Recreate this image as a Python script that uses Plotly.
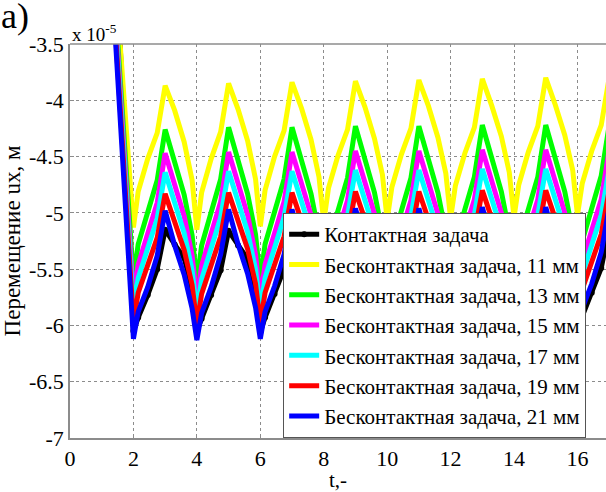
import plotly.graph_objects as go

# time axis (shared by all series)
t = [1.3,
     2.0, 2.15, 2.45, 2.75, 3.0, 3.3, 3.6, 3.85,
     4.0, 4.15, 4.45, 4.75, 5.0, 5.3, 5.6, 5.85,
     6.0, 6.15, 6.45, 6.75, 7.0, 7.3, 7.6, 7.85,
     8.0, 8.15, 8.45, 8.75, 9.0, 9.3, 9.6, 9.85,
     10.0, 10.15, 10.45, 10.75, 11.0, 11.3, 11.6, 11.85,
     12.0, 12.15, 12.45, 12.75, 13.0, 13.3, 13.6, 13.85,
     14.0, 14.15, 14.45, 14.75, 15.0, 15.3, 15.6, 15.85,
     16.0, 16.15, 16.45, 16.75, 17.0]

# displacement ux, x 10^-5 m
contact = [-1.8,
           -6.05, -5.93, -5.73, -5.50, -5.15, -5.28, -5.40, -5.68,
           -6.05, -5.94, -5.73, -5.51, -5.16, -5.29, -5.41, -5.69,
           -6.06, -5.93, -5.72, -5.50, -5.15, -5.28, -5.40, -5.68,
           -6.05, -5.93, -5.73, -5.50, -5.14, -5.28, -5.40, -5.68,
           -6.05, -5.93, -5.72, -5.49, -5.14, -5.27, -5.40, -5.68,
           -6.04, -5.92, -5.72, -5.49, -5.14, -5.27, -5.39, -5.67,
           -6.04, -5.92, -5.72, -5.49, -5.14, -5.27, -5.39, -5.67,
           -6.04, -5.92, -5.71, -5.49, -5.14]

gap11 = [-2.41,
         -5.13, -4.81, -4.52, -4.29, -3.87, -4.09, -4.37, -4.71,
         -5.15, -4.82, -4.52, -4.28, -3.85, -4.08, -4.36, -4.70,
         -5.12, -4.80, -4.50, -4.27, -3.84, -4.07, -4.35, -4.68,
         -5.08, -4.78, -4.49, -4.26, -3.83, -4.06, -4.34, -4.66,
         -5.06, -4.77, -4.48, -4.25, -3.82, -4.05, -4.33, -4.65,
         -5.05, -4.76, -4.47, -4.24, -3.81, -4.05, -4.32, -4.64,
         -5.04, -4.75, -4.46, -4.23, -3.80, -4.04, -4.31, -4.62,
         -5.02, -4.74, -4.45, -4.22, -3.80]

gap13 = [-2.60,
         -5.59, -5.28, -4.99, -4.71, -4.26, -4.55, -4.84, -5.20,
         -5.61, -5.29, -4.99, -4.70, -4.24, -4.54, -4.83, -5.19,
         -5.60, -5.28, -4.98, -4.70, -4.24, -4.54, -4.83, -5.19,
         -5.58, -5.27, -4.98, -4.69, -4.23, -4.53, -4.82, -5.18,
         -5.58, -5.27, -4.97, -4.69, -4.23, -4.53, -4.82, -5.18,
         -5.57, -5.26, -4.97, -4.68, -4.22, -4.52, -4.81, -5.17,
         -5.57, -5.26, -4.96, -4.68, -4.22, -4.52, -4.81, -5.17,
         -5.56, -5.25, -4.96, -4.67, -4.22]

gap15 = [-2.65,
         -5.75, -5.46, -5.17, -4.91, -4.47, -4.75, -5.03, -5.38,
         -5.77, -5.47, -5.17, -4.90, -4.46, -4.74, -5.02, -5.37,
         -5.76, -5.46, -5.16, -4.90, -4.46, -4.74, -5.02, -5.37,
         -5.75, -5.45, -5.16, -4.89, -4.45, -4.73, -5.01, -5.36,
         -5.75, -5.45, -5.16, -4.89, -4.45, -4.73, -5.01, -5.36,
         -5.74, -5.44, -5.15, -4.88, -4.44, -4.72, -5.00, -5.35,
         -5.74, -5.44, -5.15, -4.88, -4.44, -4.72, -5.00, -5.35,
         -5.73, -5.43, -5.14, -4.88, -4.44]

gap17 = [-2.70,
         -5.86, -5.58, -5.31, -5.05, -4.64, -4.91, -5.18, -5.51,
         -5.88, -5.59, -5.31, -5.04, -4.63, -4.90, -5.17, -5.50,
         -5.87, -5.58, -5.30, -5.04, -4.63, -4.90, -5.17, -5.50,
         -5.86, -5.57, -5.30, -5.03, -4.62, -4.89, -5.16, -5.49,
         -5.86, -5.57, -5.30, -5.03, -4.62, -4.89, -5.16, -5.49,
         -5.85, -5.56, -5.29, -5.02, -4.61, -4.88, -5.15, -5.48,
         -5.85, -5.56, -5.29, -5.02, -4.61, -4.88, -5.15, -5.48,
         -5.84, -5.55, -5.28, -5.02, -4.61]

gap19 = [-2.78,
         -5.97, -5.71, -5.46, -5.22, -4.83, -5.08, -5.33, -5.64,
         -5.99, -5.72, -5.46, -5.21, -4.82, -5.07, -5.32, -5.63,
         -5.98, -5.71, -5.45, -5.21, -4.82, -5.07, -5.32, -5.63,
         -5.97, -5.70, -5.45, -5.20, -4.81, -5.06, -5.31, -5.62,
         -5.97, -5.70, -5.45, -5.20, -4.81, -5.06, -5.31, -5.62,
         -5.96, -5.69, -5.44, -5.19, -4.80, -5.05, -5.30, -5.61,
         -5.96, -5.69, -5.44, -5.19, -4.80, -5.05, -5.30, -5.61,
         -5.95, -5.68, -5.43, -5.19, -4.80]

gap21 = [-2.84,
         -6.12, -5.88, -5.66, -5.38, -4.98, -5.29, -5.55, -5.85,
         -6.13, -5.89, -5.66, -5.37, -4.97, -5.28, -5.54, -5.84,
         -6.12, -5.88, -5.65, -5.37, -4.97, -5.28, -5.54, -5.84,
         -6.11, -5.87, -5.65, -5.36, -4.96, -5.27, -5.53, -5.83,
         -6.11, -5.87, -5.65, -5.36, -4.96, -5.27, -5.53, -5.83,
         -6.10, -5.86, -5.64, -5.35, -4.95, -5.26, -5.52, -5.82,
         -6.10, -5.86, -5.64, -5.35, -4.95, -5.26, -5.52, -5.82,
         -6.09, -5.85, -5.63, -5.35, -4.95]

series_names = ["Контактная задача",
                "Бесконтактная задача, 11 мм",
                "Бесконтактная задача, 13 мм",
                "Бесконтактная задача, 15 мм",
                "Бесконтактная задача, 17 мм",
                "Бесконтактная задача, 19 мм",
                "Бесконтактная задача, 21 мм"]
series_vals = [contact, gap11, gap13, gap15, gap17, gap19, gap21]
series_colors = ["#000000", "#ffff00", "#00ff00", "#ff00ff",
                 "#00ffff", "#ff0000", "#0000ff"]

x_ticks = [0, 2, 4, 6, 8, 10, 12, 14, 16]
y_ticks = [-7, -6.5, -6, -5.5, -5, -4.5, -4, -3.5]

FONT = "Liberation Serif, Times New Roman, serif"

fig = go.Figure()
for i, (name, vals, col) in enumerate(zip(series_names, series_vals, series_colors)):
    if i == 0:
        fig.add_trace(go.Scatter(x=t, y=vals, name=name, mode="lines+markers",
                                 line=dict(color=col, width=5),
                                 marker=dict(color=col, size=6)))
    else:
        fig.add_trace(go.Scatter(x=t, y=vals, name=name, mode="lines",
                                 line=dict(color=col, width=5)))

axis_common = dict(
    showgrid=True, gridcolor="#8c8c8c", griddash="dot", gridwidth=1,
    showline=True, linecolor="#8c8c8c", linewidth=1.5, zeroline=False,
    ticks="inside", ticklen=4, tickcolor="#8c8c8c",
    tickfont=dict(family=FONT, size=22, color="black"),
)

fig.update_layout(
    width=606, height=492,
    margin=dict(l=70, r=0, t=44, b=54),
    paper_bgcolor="white", plot_bgcolor="white",
    font=dict(family=FONT, color="black"),
    xaxis=dict(range=[0, 16.9], tickvals=x_ticks,
               ticktext=[str(v) for v in x_ticks],
               title=dict(text="t,-", font=dict(family=FONT, size=21), standoff=2),
               **axis_common),
    yaxis=dict(range=[-7, -3.5], tickvals=y_ticks,
               ticktext=[("%g" % v) for v in y_ticks],
               title=dict(text="Перемещение ux, м", font=dict(family=FONT, size=23), standoff=2),
               **axis_common),
    legend=dict(x=0.963, y=0, xanchor="right", yanchor="bottom",
                bgcolor="white", bordercolor="#555555", borderwidth=1,
                font=dict(family=FONT, size=21, color="black"),
                itemwidth=30, tracegroupgap=0),
    showlegend=True,
)

# top frame line
fig.add_shape(type="line", xref="paper", yref="paper", x0=0, x1=1, y0=1, y1=1,
              line=dict(color="#8c8c8c", width=1.5))

fig.add_annotation(text="x 10<sup>-5</sup>", xref="paper", yref="paper",
                   x=0, y=1, xanchor="left", yanchor="bottom", yshift=-3,
                   showarrow=False, font=dict(family=FONT, size=19, color="black"))
fig.add_annotation(text="а)", xref="paper", yref="paper",
                   x=-0.133, y=1.072, xanchor="left", yanchor="middle",
                   showarrow=False, font=dict(family=FONT, size=36, color="black"))

fig.write_html("out.html")
